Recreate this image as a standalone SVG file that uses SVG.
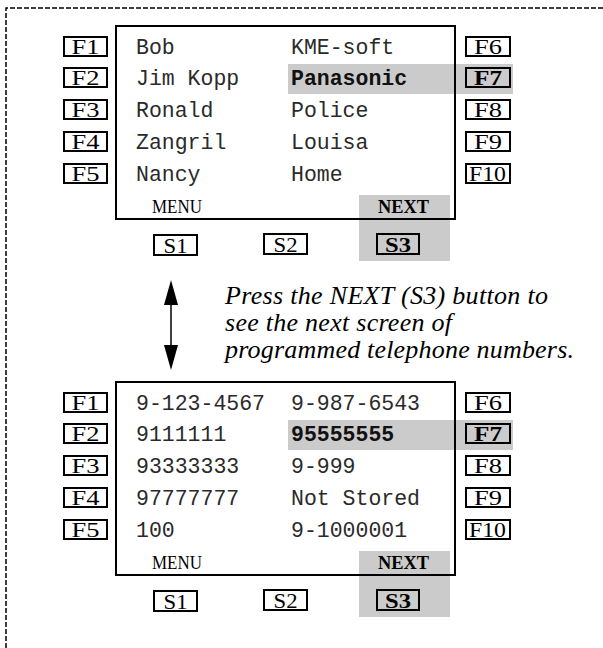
<svg xmlns="http://www.w3.org/2000/svg" width="603" height="648" viewBox="0 0 603 648">
<style>
.frame{fill:none;stroke:#000;stroke-width:1.5;stroke-dasharray:5 2}
.scr{fill:none;stroke:#000;stroke-width:2}
.btn{fill:none;stroke:#000;stroke-width:2}
.hl{fill:#cbcbcb;stroke:none}
.mono{font-family:"Liberation Mono","Courier New",monospace;font-size:21.5px;fill:#2a2a2a}
.monob{font-family:"Liberation Mono","Courier New",monospace;font-size:21.5px;font-weight:bold;fill:#111}
.lbl{font-family:"Liberation Serif","Times New Roman",serif;font-size:22px;fill:#000;text-anchor:middle}
.lblb{font-family:"Liberation Serif","Times New Roman",serif;font-size:22px;font-weight:bold;fill:#000;text-anchor:middle}
.soft{font-family:"Liberation Serif","Times New Roman",serif;font-size:18.5px;fill:#000}
.softb{font-family:"Liberation Serif","Times New Roman",serif;font-size:18.5px;font-weight:bold;fill:#000}
.note{font-family:"Liberation Serif","Times New Roman",serif;font-size:26px;font-style:italic;fill:#000}
</style>
<path class="frame" d="M6,648 V8 H603"/>

<g id="screen1">
  <rect class="hl" x="288" y="64" width="225" height="30"/>
  <rect class="hl" x="359" y="195" width="91" height="66"/>
  <rect class="scr" x="116" y="26" width="339" height="193"/>
  <text class="mono" x="136" y="54">Bob</text>
  <text class="mono" x="136" y="85">Jim Kopp</text>
  <text class="mono" x="136" y="117">Ronald</text>
  <text class="mono" x="136" y="149">Zangril</text>
  <text class="mono" x="136" y="181">Nancy</text>
  <text class="mono" x="291" y="54">KME-soft</text>
  <text class="monob" x="291" y="85">Panasonic</text>
  <text class="mono" x="291" y="117">Police</text>
  <text class="mono" x="291" y="149">Louisa</text>
  <text class="mono" x="291" y="181">Home</text>
  <text class="soft" x="152" y="213" textLength="50" lengthAdjust="spacingAndGlyphs">MENU</text>
  <text class="softb" x="378" y="213" textLength="51" lengthAdjust="spacingAndGlyphs">NEXT</text>
  <g id="s1-F1"><rect class="btn" x="64" y="37" width="43" height="19"/><text class="lbl" x="85.5" y="54" textLength="28" lengthAdjust="spacingAndGlyphs">F1</text></g>
  <g id="s1-F2"><rect class="btn" x="64" y="68" width="43" height="19"/><text class="lbl" x="85.5" y="85" textLength="28" lengthAdjust="spacingAndGlyphs">F2</text></g>
  <g id="s1-F3"><rect class="btn" x="64" y="100" width="43" height="19"/><text class="lbl" x="85.5" y="117" textLength="28" lengthAdjust="spacingAndGlyphs">F3</text></g>
  <g id="s1-F4"><rect class="btn" x="64" y="132" width="43" height="19"/><text class="lbl" x="85.5" y="149" textLength="28" lengthAdjust="spacingAndGlyphs">F4</text></g>
  <g id="s1-F5"><rect class="btn" x="64" y="164" width="43" height="19"/><text class="lbl" x="85.5" y="181" textLength="28" lengthAdjust="spacingAndGlyphs">F5</text></g>
  <g id="s1-F6"><rect class="btn" x="466" y="37" width="44" height="19"/><text class="lbl" x="488" y="54" textLength="28" lengthAdjust="spacingAndGlyphs">F6</text></g>
  <g id="s1-F7"><rect class="btn" x="466" y="68" width="44" height="19"/><text class="lblb" x="488" y="85" textLength="28" lengthAdjust="spacingAndGlyphs">F7</text></g>
  <g id="s1-F8"><rect class="btn" x="466" y="100" width="44" height="19"/><text class="lbl" x="488" y="117" textLength="28" lengthAdjust="spacingAndGlyphs">F8</text></g>
  <g id="s1-F9"><rect class="btn" x="466" y="132" width="44" height="19"/><text class="lbl" x="488" y="149" textLength="28" lengthAdjust="spacingAndGlyphs">F9</text></g>
  <g id="s1-F10"><rect class="btn" x="466" y="164" width="44" height="19"/><text class="lbl" x="487.5" y="181" textLength="37" lengthAdjust="spacingAndGlyphs">F10</text></g>
  <g id="s1-S1"><rect class="btn" x="154" y="235" width="43" height="20"/><text class="lbl" x="175.5" y="253" textLength="24" lengthAdjust="spacingAndGlyphs">S1</text></g>
  <g id="s1-S2"><rect class="btn" x="264" y="234" width="43" height="20"/><text class="lbl" x="285.5" y="252" textLength="24" lengthAdjust="spacingAndGlyphs">S2</text></g>
  <g id="s1-S3"><rect class="btn" x="377" y="234" width="42" height="20"/><text class="lblb" x="398" y="252" textLength="26" lengthAdjust="spacingAndGlyphs">S3</text></g>
</g>

<g id="connectors">
  <line x1="171" y1="300" x2="171" y2="350" stroke="#000" stroke-width="1.5"/>
  <polygon points="171,280 164,305 178,305" fill="#000"/>
  <polygon points="171,370 164,345 178,345" fill="#000"/>
</g>

<g id="note">
  <text class="note" x="225" y="304" textLength="323">Press the NEXT (S3) button to</text>
  <text class="note" x="225" y="331" textLength="227">see the next screen of</text>
  <text class="note" x="225" y="358" textLength="349">programmed telephone numbers.</text>
</g>

<g id="screen2">
  <rect class="hl" x="288" y="420" width="225" height="30"/>
  <rect class="hl" x="359" y="551" width="91" height="66"/>
  <rect class="scr" x="116" y="382" width="339" height="193"/>
  <text class="mono" x="136" y="410">9-123-4567</text>
  <text class="mono" x="136" y="441">9111111</text>
  <text class="mono" x="136" y="473">93333333</text>
  <text class="mono" x="136" y="505">97777777</text>
  <text class="mono" x="136" y="537">100</text>
  <text class="mono" x="291" y="410">9-987-6543</text>
  <text class="monob" x="291" y="441">95555555</text>
  <text class="mono" x="291" y="473">9-999</text>
  <text class="mono" x="291" y="505">Not Stored</text>
  <text class="mono" x="291" y="537">9-1000001</text>
  <text class="soft" x="152" y="569" textLength="50" lengthAdjust="spacingAndGlyphs">MENU</text>
  <text class="softb" x="378" y="569" textLength="51" lengthAdjust="spacingAndGlyphs">NEXT</text>
  <g id="s2-F1"><rect class="btn" x="64" y="393" width="43" height="19"/><text class="lbl" x="85.5" y="410" textLength="28" lengthAdjust="spacingAndGlyphs">F1</text></g>
  <g id="s2-F2"><rect class="btn" x="64" y="424" width="43" height="19"/><text class="lbl" x="85.5" y="441" textLength="28" lengthAdjust="spacingAndGlyphs">F2</text></g>
  <g id="s2-F3"><rect class="btn" x="64" y="456" width="43" height="19"/><text class="lbl" x="85.5" y="473" textLength="28" lengthAdjust="spacingAndGlyphs">F3</text></g>
  <g id="s2-F4"><rect class="btn" x="64" y="488" width="43" height="19"/><text class="lbl" x="85.5" y="505" textLength="28" lengthAdjust="spacingAndGlyphs">F4</text></g>
  <g id="s2-F5"><rect class="btn" x="64" y="520" width="43" height="19"/><text class="lbl" x="85.5" y="537" textLength="28" lengthAdjust="spacingAndGlyphs">F5</text></g>
  <g id="s2-F6"><rect class="btn" x="466" y="393" width="44" height="19"/><text class="lbl" x="488" y="410" textLength="28" lengthAdjust="spacingAndGlyphs">F6</text></g>
  <g id="s2-F7"><rect class="btn" x="466" y="424" width="44" height="19"/><text class="lblb" x="488" y="441" textLength="28" lengthAdjust="spacingAndGlyphs">F7</text></g>
  <g id="s2-F8"><rect class="btn" x="466" y="456" width="44" height="19"/><text class="lbl" x="488" y="473" textLength="28" lengthAdjust="spacingAndGlyphs">F8</text></g>
  <g id="s2-F9"><rect class="btn" x="466" y="488" width="44" height="19"/><text class="lbl" x="488" y="505" textLength="28" lengthAdjust="spacingAndGlyphs">F9</text></g>
  <g id="s2-F10"><rect class="btn" x="466" y="520" width="44" height="19"/><text class="lbl" x="487.5" y="537" textLength="37" lengthAdjust="spacingAndGlyphs">F10</text></g>
  <g id="s2-S1"><rect class="btn" x="154" y="591" width="43" height="20"/><text class="lbl" x="175.5" y="609" textLength="24" lengthAdjust="spacingAndGlyphs">S1</text></g>
  <g id="s2-S2"><rect class="btn" x="264" y="590" width="43" height="20"/><text class="lbl" x="285.5" y="608" textLength="24" lengthAdjust="spacingAndGlyphs">S2</text></g>
  <g id="s2-S3"><rect class="btn" x="377" y="590" width="42" height="20"/><text class="lblb" x="398" y="608" textLength="26" lengthAdjust="spacingAndGlyphs">S3</text></g>
</g>
</svg>
